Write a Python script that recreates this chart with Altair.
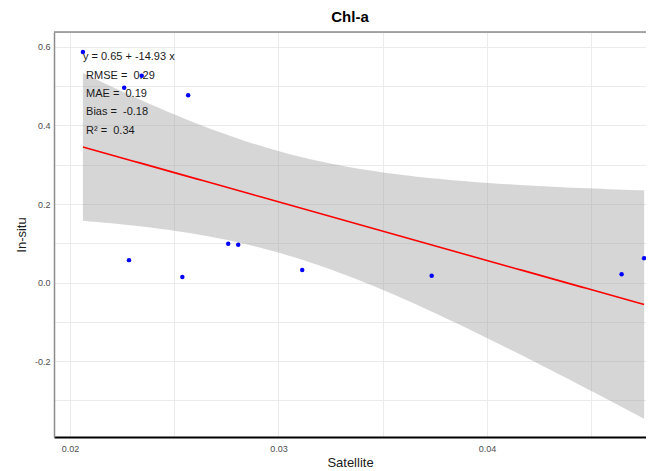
import altair as alt
import numpy as np
import pandas as pd

satellite = [0.02062, 0.02344, 0.02260, 0.02567, 0.02283, 0.02539,
             0.02759, 0.02807, 0.03114, 0.03735, 0.04646, 0.04754]
insitu = [0.587, 0.527, 0.496, 0.477, 0.057, 0.014,
          0.099, 0.096, 0.032, 0.017, 0.021, 0.062]

ann_text = ["y = 0.65 + -14.93 x", "RMSE = \u00a00.29", "MAE = \u00a00.19",
            "Bias = \u00a0-0.18", "R\u00b2 = \u00a00.34"]
ann_x = [0.02062, 0.02077, 0.02077, 0.02077, 0.02077]
ann_y = [0.5745, 0.526, 0.480, 0.434, 0.386]

x_grid = [0.02, 0.025, 0.03, 0.035, 0.04, 0.045]
y_grid = [-0.3, -0.2, -0.1, 0.0, 0.1, 0.2, 0.3, 0.4, 0.5, 0.6]

# linear fit with 95% confidence band (lm)
x = np.array(satellite)
y = np.array(insitu)
n = len(x)
b1, b0 = np.polyfit(x, y, 1)
resid = y - (b0 + b1 * x)
s = np.sqrt(np.sum(resid ** 2) / (n - 2))
sxx = np.sum((x - x.mean()) ** 2)
t = 2.228  # t(0.975, df=10)
xs = np.linspace(x.min(), x.max(), 80)
fit = b0 + b1 * xs
se = s * np.sqrt(1 / n + (xs - x.mean()) ** 2 / sxx)
band = pd.DataFrame({"x": xs, "fit": fit, "lo": fit - t * se, "hi": fit + t * se})

pts = pd.DataFrame({"x": satellite, "y": insitu})
ann = pd.DataFrame({"x": ann_x, "y": ann_y, "t": ann_text})

xdom = [0.019233, 0.04763]
ydom = [-0.3936, 0.6382]
top = pd.DataFrame({"y": [ydom[1]]})

xscale = alt.Scale(domain=xdom, nice=False, zero=False)
yscale = alt.Scale(domain=ydom, nice=False, zero=False)

x_axis = alt.Axis(
    values=x_grid,
    labelExpr="abs(round(datum.value*100) - datum.value*100) < 0.001 ? format(datum.value, '.2f') : ''",
    grid=True, gridColor="#EBEBEB", gridWidth=1,
    ticks=False, labelPadding=7, labelColor="#4D4D4D", labelFontSize=9,
    labelFont="Liberation Sans",
    domain=True, domainColor="#000000", domainWidth=2,
    title="Satellite", titleFont="Liberation Sans", titleFontSize=13,
    titleFontWeight="normal", titleColor="#1A1A1A", titlePadding=3,
)
y_axis = alt.Axis(
    values=y_grid,
    labelExpr="abs(round(datum.value*5) - datum.value*5) < 0.001 ? replace(format(datum.value, '.1f'), '\u2212', '-') : ''",
    grid=True, gridColor="#EBEBEB", gridWidth=1,
    ticks=False, labelPadding=4, labelColor="#4D4D4D", labelFontSize=9,
    labelFont="Liberation Sans",
    domain=True, domainColor="#8C8C8C", domainWidth=1.5,
    title="In-situ", titleFont="Liberation Sans", titleFontSize=13,
    titleFontWeight="normal", titleColor="#1A1A1A", titlePadding=6,
)

base = alt.Chart(band)

band_layer = base.mark_area(color="#999999", opacity=0.4).encode(
    x=alt.X("x:Q", scale=xscale, axis=x_axis),
    y=alt.Y("lo:Q", scale=yscale, axis=y_axis),
    y2="hi:Q",
)

top_border = alt.Chart(top).mark_rule(color="#8C8C8C", strokeWidth=1.5).encode(
    y=alt.Y("y:Q", scale=yscale),
)

line_layer = base.mark_line(color="#FF0000", strokeWidth=1.6).encode(
    x=alt.X("x:Q", scale=xscale),
    y=alt.Y("fit:Q", scale=yscale),
)

pt_layer = alt.Chart(pts).mark_circle(color="#0000FF", opacity=1, size=20).encode(
    x=alt.X("x:Q", scale=xscale),
    y=alt.Y("y:Q", scale=yscale),
)

txt_layer = alt.Chart(ann).mark_text(
    align="left", baseline="middle", font="Liberation Sans", fontSize=11, color="#1A1A1A"
).encode(
    x=alt.X("x:Q", scale=xscale),
    y=alt.Y("y:Q", scale=yscale),
    text="t:N",
)

chart = alt.layer(band_layer, top_border, line_layer, pt_layer, txt_layer).properties(
    width=592, height=405,
    title=alt.TitleParams("Chl-a", font="Liberation Sans", fontSize=15, fontWeight="bold",
                          color="#000000", anchor="middle", offset=6),
    autosize=alt.AutoSizeParams(type="none"),
    padding={"left": 46, "top": 24, "right": 0, "bottom": 34},
).configure_view(stroke=None).configure(background="white")

chart.save("out.html", embed_options={"renderer": "svg", "actions": False})
